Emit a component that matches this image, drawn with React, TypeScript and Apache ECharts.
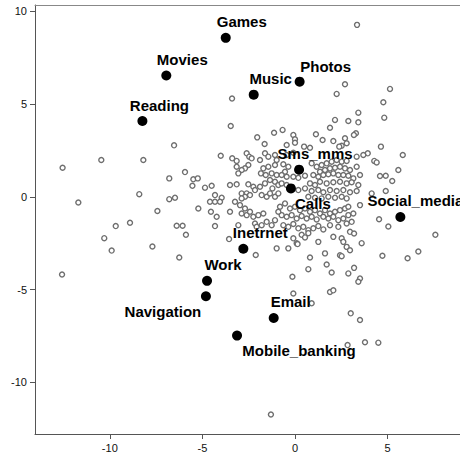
import React, { useEffect, useRef } from "react";
import * as echarts from "echarts";

const keywordNames = ["Games", "Movies", "Reading", "Music", "Photos", "Sms_mms", "Calls", "Social_media", "Inetrnet", "Work", "Navigation", "Email", "Mobile_banking"];
const keywordX = [-3.74, -6.95, -8.24, -2.23, 0.25, 0.22, -0.22, 5.69, -2.79, -4.75, -4.81, -1.15, -3.13];
const keywordY = [8.56, 6.53, 4.08, 5.5, 6.2, 1.46, 0.45, -1.09, -2.8, -4.53, -5.36, -6.53, -7.48];

const respondentPoints: number[][] = [
  [3.35, 9.26], [2.7, 6.06], [2.25, 5.54], [5.13, 5.81], [4.77, 5.09], [-3.4, 5.29],
  [-8.41, 0.14], [-11.7, -0.31], [-7.43, -0.77], [-6.79, -0.13], [-6.48, -0.05], [-9.68, -1.58], [-8.91, -1.4],
  [-6.39, -1.56], [-6.07, -1.56], [-6.79, 0.99], [-5.94, 1.33], [-5.49, 0.94], [-5.54, 0.59], [-12.55, 1.56],
  [-10.46, 1.98], [-8.19, 1.98], [-6.53, 2.77],
  [-10.3, -2.23], [-9.9, -2.9], [-7.7, -2.68], [-5.89, -2.05], [-6.25, -3.27], [-12.58, -4.19],
  [0.9, -5.74], [3.01, -6.28], [3.51, -6.64], [2.84, -7.99], [3.78, -7.84], [4.5, -7.86], [-1.3, -11.73],
  [4.54, -1.21], [5.04, -1.6], [7.58, -2.05], [4.72, -3.18], [6.08, -3.31], [6.66, -2.95],
  [4.82, 4.26], [4.64, 2.7], [3.93, 2.34], [4.28, 1.93], [4.41, 1.85], [5.82, 2.25], [5.58, 1.44], [4.59, 1.12],
  [4.9, 1.13], [5.25, 0.85], [4.9, 0.31], [4.14, 0.18],
  [-3.47, 3.81], [-2.04, 3.2], [-1.13, 3.45], [-1.64, 2.84], [-4.01, 2.21], [-3.39, 2.07], [-3.15, 1.93],
  [-2.61, 2.34], [-2.47, 2.16], [-2.34, 2.07], [-2.52, 1.71], [-2.7, 1.53], [-2.88, 1.44], [-3.06, 1.26],
  [-3.15, 1.62], [-1.89, 1.98], [-1.62, 2.34], [-1.44, 2.16], [-1.08, 2.25], [-1.71, 1.53], [-1.44, 1.62],
  [-1.08, 1.71], [-0.99, 1.98], [-1.84, 1.26], [-1.58, 1.17], [-1.26, 1.26], [-0.99, 1.17], [-1.35, 0.9],
  [-1.08, 0.81], [-1.62, 0.72], [-1.89, 0.54], [-1.22, 0.45], [-0.9, 0.63], [-5.25, 0.99], [-4.86, 0.49],
  [-4.5, 0.59], [-3.51, 0.63], [-3.15, 0.67], [-2.52, 0.67], [-2.25, 0.54], [-2.16, 0.36], [-2.88, 0.18],
  [-2.61, 0.18], [-2.43, 0.09], [-2.7, 0], [-2.88, -0.09], [-1.8, 0.09], [-1.53, 0], [-1.35, 0.18], [-1.08, 0],
  [-0.9, 0.18], [-4.32, 0.09], [-3.96, -0.05],
  [-0.67, 3.6], [-0.09, 3.33], [0, 3.1], [1.13, 3.37], [1.89, 3.72], [2.16, 4.14], [2.88, 4.08], [3.42, 4.01],
  [3.42, 4.53], [3.29, 3.42], [3.18, 3.33], [1.49, 3.06], [2.07, 3.0], [2.7, 3.15], [2.79, 2.88], [2.52, 2.75],
  [2.39, 2.7], [0.49, 2.7], [0.81, 2.64], [-0.45, 2.25], [-0.09, 2.37], [3.33, 2.16], [3.69, 2.25], [-0.63, 1.75],
  [-0.36, 1.62], [-0.54, 1.35], [-0.72, 1.17], [0.9, 1.8], [1.17, 1.62], [1.44, 1.71], [1.71, 1.8], [1.98, 1.89],
  [2.25, 1.98], [2.52, 1.89], [2.79, 1.93], [1.35, 1.35], [1.62, 1.44], [1.89, 1.53], [2.16, 1.56], [2.43, 1.62],
  [2.7, 1.53], [2.97, 1.44], [3.33, 1.62], [3.51, 1.17], [3.15, 0.99], [0.99, 1.17], [1.26, 1.08], [1.53, 1.17],
  [1.8, 1.21], [2.07, 1.26], [2.34, 1.17], [2.61, 1.17], [2.88, 1.13], [-0.45, 1.08], [-0.09, 1.08], [0.18, 1.02],
  [0.54, 1.13], [-0.72, 0.72], [-0.45, 0.63], [0.81, 0.72], [1.08, 0.63], [1.35, 0.81], [1.71, 0.72], [2.07, 0.78],
  [2.43, 0.81], [2.79, 0.72], [3.06, 0.78], [3.42, 0.63], [0.18, 0.36], [0.54, 0.45], [0.9, 0.31], [1.26, 0.36],
  [1.53, 0.24], [1.89, 0.36], [2.25, 0.31], [2.61, 0.36], [2.97, 0.24], [3.33, 0.31], [0.72, 0], [1.08, -0.05],
  [1.44, -0.09], [1.8, 0], [2.16, -0.05], [2.52, 0], [2.79, -0.09], [-0.45, 2.79], [0, 2.91],
  [-0.81, -0.54], [-0.54, -0.36], [-0.27, -0.63], [0, -0.54], [0.27, -0.72], [0.54, -0.63], [0.81, -0.81],
  [1.08, -0.72], [1.35, -0.9], [1.62, -0.72], [1.89, -0.9], [2.16, -0.81], [2.43, -0.72], [2.7, -0.63],
  [2.88, -0.54], [3.51, -0.45],
  [-0.72, -0.99], [-0.45, -1.08], [-0.18, -0.99], [0.09, -1.17], [0.36, -1.04], [0.63, -1.17], [0.9, -1.08],
  [1.17, -1.22], [1.53, -1.08], [1.8, -1.17], [2.07, -1.08], [2.34, -1.26], [2.61, -1.17], [2.88, -0.99], [3.15, -0.9],
  [-0.63, -1.53], [-0.36, -1.62], [-0.09, -1.47], [0.18, -1.7], [0.45, -1.62], [0.72, -1.8], [0.99, -1.7],
  [1.26, -1.58], [1.53, -1.76], [1.89, -1.53], [2.34, -1.62], [2.79, -1.44], [3.06, -1.35], [2.97, -1.89], [3.19, -1.98],
  [-0.09, -2.24], [0.09, -2.51], [-0.36, -2.78], [1.26, -2.43], [2.07, -2.16], [2.52, -2.24], [2.61, -2.43],
  [2.79, -2.7], [2.97, -2.88], [3.6, -2.5],
  [0.81, -3.27], [1.62, -3.05], [2.43, -3.15], [2.52, -3.2], [1.71, -3.65], [0.72, -3.9], [1.98, -4.08],
  [2.88, -4.13], [3.19, -3.83], [3.51, -4.4], [3.42, -4.58], [-0.14, -4.31], [-0.09, -5.21], [1.89, -5.13], [2.07, -5.04],
  [0.36, -2.05], [0.54, -2.19], [0.72, -1.96], [0.14, -2.55],
  [-5.22, -0.63], [-4.59, -0.27], [-4.32, -0.27], [-4.05, -0.27], [-4.54, -0.81], [-4.23, -1.08], [-4.32, -1.58],
  [-3.51, -0.81], [-3.24, -0.27], [-2.97, -0.45], [-2.88, -0.9], [-2.7, -0.63], [-2.61, -0.99], [-2.43, -0.81],
  [-2.25, -1.08], [-1.98, -0.99], [-1.71, -0.9], [-2.16, -1.44], [-2.07, -1.62], [-1.8, -1.53], [-1.53, -1.35],
  [-1.26, -1.53], [-1.08, -1.26], [-0.9, -0.81], [-0.99, -2.78], [-2.12, -3.14], [-3.56, -2.28], [-3.06, -1.53],
];

const xTicks = [-10, -5, 0, 5];
const yTicks = [-10, -5, 0, 5, 10];

const labelOffsets: Record<string, number[]> = {
  Games: [16, -16], Movies: [16, -16], Reading: [17, -16], Music: [17, -16], Photos: [26, -15],
  Sms_mms: [16, -16], Calls: [22, 15], Social_media: [15, -16], Inetrnet: [17, -16], Work: [16, -16],
  Navigation: [-43, 15], Email: [17, -16], Mobile_banking: [62, 15],
};

export default function App() {
  const ref = useRef<HTMLDivElement>(null);
  useEffect(() => {
    if (!ref.current) return;
    const chart = echarts.init(ref.current, null, { renderer: "svg" });
    const axisColor = "#555";
    const tickLabel = { fontSize: 11, color: "#111", fontFamily: "Liberation Sans, Arial, sans-serif" };
    chart.setOption({
      animation: false,
      grid: { left: 35, top: 5, right: 0, bottom: 23 },
      xAxis: [
        {
          type: "value", min: -14.04, max: 8.91, position: "bottom",
          axisLine: { show: true, onZero: false, lineStyle: { color: axisColor, width: 1 } },
          axisTick: { show: true, length: 5, customValues: xTicks, lineStyle: { color: axisColor } },
          axisLabel: { ...tickLabel, margin: 8, customValues: xTicks },
          splitLine: { show: false },
        },
        {
          type: "value", min: -14.04, max: 8.91, position: "top",
          axisLine: { show: true, onZero: false, lineStyle: { color: "#888", width: 1 } },
          axisTick: { show: false }, axisLabel: { show: false }, splitLine: { show: false },
        },
      ],
      yAxis: {
        type: "value", min: -12.78, max: 10.33,
        axisLine: { show: true, onZero: false, lineStyle: { color: axisColor, width: 1 } },
        axisTick: { show: true, length: 5, customValues: yTicks, lineStyle: { color: axisColor } },
        axisLabel: { ...tickLabel, margin: 8, customValues: yTicks },
        splitLine: { show: false },
      },
      series: [
        {
          type: "scatter",
          data: respondentPoints,
          symbol: "circle",
          symbolSize: 5,
          itemStyle: { color: "#fff", borderColor: "#6e6e6e", borderWidth: 1.4, opacity: 1 },
          silent: true,
          z: 2,
        },
        {
          type: "scatter",
          data: keywordNames.map((n, i) => ({
            name: n,
            value: [keywordX[i], keywordY[i]],
            label: {
              show: true,
              formatter: n,
              position: "inside",
              offset: labelOffsets[n],
              align: "center",
              verticalAlign: "middle",
              fontSize: 15,
              fontWeight: "bold",
              color: "#000",
              fontFamily: "Liberation Sans, Arial, sans-serif",
            },
          })),
          symbol: "circle",
          symbolSize: 10,
          itemStyle: { color: "#000", opacity: 1 },
          z: 3,
        },
      ],
    });
    return () => chart.dispose();
  }, []);
  return (
    <div style={{ position: "fixed", left: 0, top: 0, width: 460, height: 457, background: "#fff" }}>
      <div ref={ref} style={{ width: 460, height: 457 }} />
    </div>
  );
}
